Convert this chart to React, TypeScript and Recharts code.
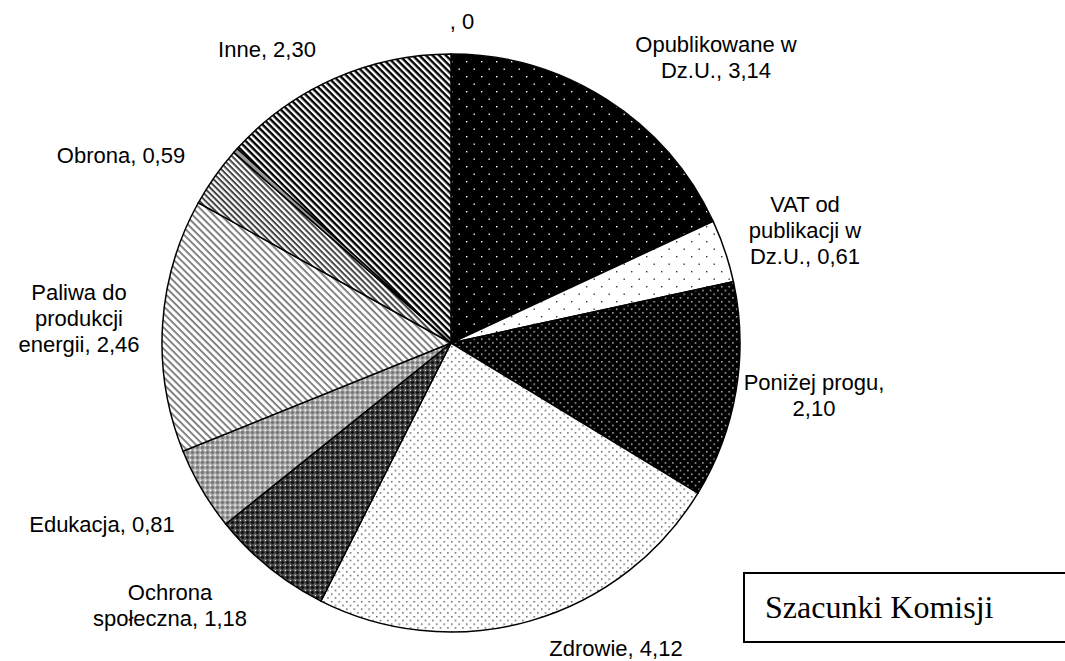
import { PieChart, Pie, Cell } from "recharts";

// slices clockwise from 12 o'clock
const names = [
  "Opublikowane w Dz.U.",
  "VAT od publikacji w Dz.U.",
  "Poniżej progu",
  "Zdrowie",
  "Ochrona społeczna",
  "Edukacja",
  "Paliwa do produkcji energii",
  "Obrona",
  "",
  "Inne",
  "",
];
const values = [3.14, 0.61, 2.1, 4.12, 1.18, 0.81, 2.46, 0.59, 0.05, 2.3, 0];

// label text split into lines, value gets appended to the last line
const labelLines: (string[] | null)[] = [
  ["Opublikowane w", "Dz.U., "],
  ["VAT od", "publikacji w", "Dz.U., "],
  ["Poniżej progu,", ""],
  ["Zdrowie, "],
  ["Ochrona", "społeczna, "],
  ["Edukacja, "],
  ["Paliwa do", "produkcji", "energii, "],
  ["Obrona, "],
  null,
  ["Inne, "],
  [", "],
];

// label anchor (centre x, first baseline) relative to pie centre
const labelPos = [
  [265, -291],
  [354, -131],
  [363, 47],
  [165, 313],
  [-281, 257],
  [-349, 189],
  [-372, -43],
  [-330, -180],
  [0, 0],
  [-184, -286],
  [11, -314],
];

const fills = [
  "url(#pOpub)",
  "url(#pVat)",
  "url(#pProg)",
  "url(#pZdr)",
  "url(#pOchr)",
  "url(#pEdu)",
  "url(#pPal)",
  "url(#pObr)",
  "#999",
  "url(#pInne)",
  "#fff",
];

const chartData = names.map((name, i) => ({ name, value: values[i] }));

const fmt = (v: number) => (v === 0 ? "0" : v.toFixed(2).replace(".", ","));

const renderLabel = (props: any) => {
  const { cx, cy, index, value } = props;
  const lines = labelLines[index];
  if (!lines) return null;
  const [dx, dy] = labelPos[index];
  const txt = lines.map((l, i) => (i === lines.length - 1 ? l + fmt(value) : l));
  return (
    <text
      x={cx + dx}
      y={cy + dy}
      textAnchor="middle"
      fontFamily="'Liberation Sans', Arial, sans-serif"
      fontSize={22}
      fill="#000"
    >
      {txt.map((t, i) => (
        <tspan key={i} x={cx + dx} dy={i === 0 ? 0 : 26}>
          {t}
        </tspan>
      ))}
    </text>
  );
};

const Patterns = () => (
  <svg width="0" height="0" style={{ position: "absolute" }}>
    <defs>
      <pattern id="pOpub" width="15" height="15" patternUnits="userSpaceOnUse">
        <rect width="15" height="15" fill="#000" />
        <rect x="1" y="1" width="1.4" height="1.4" fill="#fff" />
        <rect x="8.5" y="8.5" width="1.4" height="1.4" fill="#fff" />
      </pattern>
      <pattern id="pVat" width="15" height="15" patternUnits="userSpaceOnUse">
        <rect width="15" height="15" fill="#fff" />
        <rect x="1" y="1" width="1.4" height="1.4" fill="#333" />
        <rect x="8.5" y="8.5" width="1.4" height="1.4" fill="#333" />
      </pattern>
      <pattern id="pProg" width="7.5" height="7.5" patternUnits="userSpaceOnUse">
        <rect width="7.5" height="7.5" fill="#000" />
        <rect x="1" y="1" width="1.4" height="1.4" fill="#ddd" />
        <rect x="4.75" y="4.75" width="1.4" height="1.4" fill="#ddd" />
      </pattern>
      <pattern id="pZdr" width="7.5" height="7.5" patternUnits="userSpaceOnUse">
        <rect width="7.5" height="7.5" fill="#fff" />
        <rect x="1" y="1" width="1.4" height="1.4" fill="#444" />
        <rect x="4.75" y="4.75" width="1.4" height="1.4" fill="#444" />
      </pattern>
      <pattern id="pOchr" width="5" height="5" patternUnits="userSpaceOnUse">
        <rect width="5" height="5" fill="#666" />
        <rect x="1.5" y="0.5" width="2" height="4" fill="#111" />
        <rect x="0.5" y="1.5" width="4" height="2" fill="#111" />
        <rect x="0" y="0" width="1" height="1" fill="#ddd" />
      </pattern>
      <pattern id="pEdu" width="5" height="5" patternUnits="userSpaceOnUse">
        <rect width="5" height="5" fill="#c8c8c8" />
        <rect x="1.5" y="0.5" width="2" height="4" fill="#777" />
        <rect x="0.5" y="1.5" width="4" height="2" fill="#777" />
        <rect x="0" y="0" width="1" height="1" fill="#fff" />
      </pattern>
      <pattern id="pPal" width="5" height="5" patternUnits="userSpaceOnUse" patternTransform="rotate(45)">
        <rect width="5" height="5" fill="#fff" />
        <rect y="0" width="5" height="1.8" fill="#777" />
      </pattern>
      <pattern id="pObr" width="4.2" height="4.2" patternUnits="userSpaceOnUse" patternTransform="rotate(45)">
        <rect width="4.2" height="4.2" fill="#fff" />
        <rect y="0" width="4.2" height="2" fill="#444" />
      </pattern>
      <pattern id="pInne" width="4.7" height="4.7" patternUnits="userSpaceOnUse" patternTransform="rotate(45)">
        <rect width="4.7" height="4.7" fill="#fff" />
        <rect y="0" width="4.7" height="2.4" fill="#000" />
      </pattern>
    </defs>
  </svg>
);

export default function App() {
  return (
    <div
      style={{
        position: "absolute",
        left: 0,
        top: 0,
        width: 1065,
        height: 661,
        overflow: "hidden",
        background: "#fff",
      }}
    >
      <Patterns />
      <PieChart width={1065} height={661} margin={{ top: 0, right: 0, bottom: 0, left: 0 }}>
        <Pie
          data={chartData}
          dataKey="value"
          nameKey="name"
          cx={451}
          cy={343}
          outerRadius={289}
          startAngle={90}
          endAngle={-270}
          stroke="#000"
          strokeWidth={1.5}
          label={renderLabel}
          labelLine={false}
          isAnimationActive={false}
        >
          {chartData.map((d, i) => (
            <Cell key={d.name + i} fill={fills[i]} />
          ))}
        </Pie>
      </PieChart>
      <div
        style={{
          position: "absolute",
          left: 743,
          top: 572,
          width: 322,
          height: 71,
          border: "2px solid #000",
          borderRight: "none",
          boxSizing: "border-box",
          fontFamily: "'Liberation Serif', 'Times New Roman', serif",
          fontSize: 32,
          paddingLeft: 20,
          lineHeight: "67px",
        }}
      >
        Szacunki Komisji
      </div>
    </div>
  );
}
